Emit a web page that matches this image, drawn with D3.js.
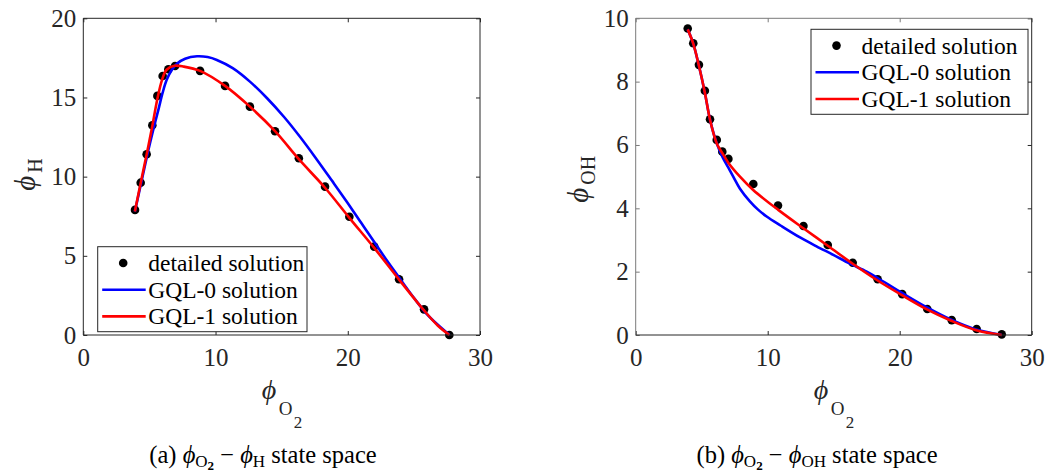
<!DOCTYPE html>
<html><head><meta charset="utf-8">
<script src="https://cdn.jsdelivr.net/npm/d3@7"></script>
<style>
body{margin:0;background:#fff;}
svg text{font-family:"Liberation Serif","Times New Roman",serif;}
</style></head>
<body><svg id="c" width="1048" height="472"></svg>
<script>
// ---------- data ----------
const xTicks = [0, 10, 20, 30];
const yTicksA = [0, 5, 10, 15, 20];
const yTicksB = [0, 2, 4, 6, 8, 10];
const legendLabels = ["detailed solution", "GQL-0 solution", "GQL-1 solution"];

// panel (a): phi_O2 vs phi_H
const detA_x = [3.91, 4.34, 4.79, 5.22, 5.6, 6.0, 6.43, 6.94, 8.83, 10.72, 12.6, 14.5, 16.3, 18.28, 20.12, 22.0, 23.88, 25.77, 27.68];
const detA_y = [7.9, 9.62, 11.41, 13.25, 15.1, 16.36, 16.78, 16.99, 16.68, 15.73, 14.42, 12.87, 11.16, 9.37, 7.47, 5.58, 3.52, 1.62, 0.0];
const gql0A_x = [3.9, 4.4, 4.9, 5.3, 5.7, 6.0, 6.3, 6.7, 7.1, 7.7, 8.6, 9.4, 10.1, 11.3, 12.6, 13.9, 15.2, 16.4, 17.6, 18.8, 19.9, 21.0, 22.07, 23.0, 23.95, 25.0, 26.0, 27.0, 27.7];
const gql0A_y = [7.8, 9.7, 11.6, 13.0, 14.3, 15.3, 16.1, 16.75, 17.15, 17.45, 17.6, 17.55, 17.37, 16.85, 16.0, 14.95, 13.75, 12.5, 11.15, 9.75, 8.45, 7.1, 5.8, 4.65, 3.55, 2.35, 1.3, 0.5, 0.0];
const gql1A_x = [3.9, 4.34, 4.79, 5.22, 5.6, 5.95, 6.3, 6.9, 7.6, 8.83, 10.72, 12.6, 14.5, 16.3, 18.28, 20.12, 22.0, 23.88, 25.77, 26.8, 27.68];
const gql1A_y = [7.8, 9.6, 11.4, 13.2, 14.9, 16.1, 16.75, 17.0, 16.95, 16.68, 15.73, 14.42, 12.87, 11.1, 9.3, 7.4, 5.5, 3.5, 1.55, 0.6, 0.0];

// panel (b): phi_O2 vs phi_OH
const detB_x = [3.94, 4.36, 4.79, 5.24, 5.63, 6.14, 6.56, 7.02, 8.91, 10.78, 12.71, 14.55, 16.44, 18.33, 20.19, 22.09, 23.94, 25.83, 27.73];
const detB_y = [9.68, 9.21, 8.53, 7.71, 6.81, 6.16, 5.79, 5.56, 4.77, 4.09, 3.44, 2.84, 2.28, 1.76, 1.29, 0.82, 0.47, 0.19, 0.02];
const gql0B_x = [3.94, 4.36, 4.79, 5.24, 5.63, 6.14, 6.6, 7.0, 7.39, 7.9, 8.65, 9.29, 9.92, 11.0, 12.45, 13.7, 14.97, 16.2, 17.5, 18.33, 20.2, 22.1, 23.9, 25.8, 27.73];
const gql0B_y = [9.65, 9.2, 8.5, 7.65, 6.8, 6.05, 5.6, 5.3, 5.0, 4.62, 4.22, 3.95, 3.74, 3.45, 3.08, 2.8, 2.53, 2.26, 2.0, 1.8, 1.32, 0.86, 0.48, 0.17, 0.0];
const gql1B_x = [3.94, 4.36, 4.79, 5.24, 5.63, 6.14, 6.6, 7.0, 7.9, 8.9, 10.8, 12.7, 14.55, 16.44, 18.33, 20.2, 22.1, 23.9, 25.8, 27.73];
const gql1B_y = [9.65, 9.2, 8.5, 7.65, 6.8, 6.05, 5.72, 5.45, 5.0, 4.58, 3.95, 3.37, 2.82, 2.25, 1.72, 1.25, 0.8, 0.45, 0.15, 0.0];

// ---------- drawing ----------
const svg = d3.select("#c");
const zip = (xs, ys) => xs.map((x, i) => [x, ys[i]]);

function panel(opt) {
  const x = d3.scaleLinear().domain([0, 30]).range(opt.xr);
  const y = d3.scaleLinear().domain(opt.yd).range([335, 18.3]);
  const g = svg.append("g");
  const axCol = "#262626";

  // data
  g.append("g").selectAll("circle").data(zip(opt.dx, opt.dy)).join("circle")
    .attr("cx", d => x(d[0])).attr("cy", d => y(d[1])).attr("r", 4.3).attr("fill", "#000");
  const line = d3.line().x(d => x(d[0])).y(d => y(d[1])).curve(d3.curveCatmullRom.alpha(0.5));
  g.append("path").datum(zip(opt.b0x, opt.b0y)).attr("d", line)
    .attr("fill", "none").attr("stroke", "#0000ff").attr("stroke-width", 2.6);
  g.append("path").datum(zip(opt.b1x, opt.b1y)).attr("d", line)
    .attr("fill", "none").attr("stroke", "#ff0000").attr("stroke-width", 2.6);

  // axes
  const [x0, x1] = x.range(), [y0, y1] = y.range();
  const styleAx = (sel, col) => {
    sel.select(".domain").remove();
    sel.selectAll("line").attr("stroke", col);
    sel.selectAll("text").attr("fill", axCol).style("font-size", "25px")
      .style("font-family", '"Liberation Serif",serif');
  };
  g.append("g").attr("transform", `translate(0,${y0})`)
    .call(d3.axisBottom(x).tickValues(xTicks).tickSizeInner(-4).tickSizeOuter(0).tickPadding(13))
    .call(s => styleAx(s, axCol));
  g.append("g").attr("transform", `translate(0,${y1})`)
    .call(d3.axisTop(x).tickValues(xTicks).tickSizeInner(-4).tickSizeOuter(0).tickFormat(""))
    .call(s => styleAx(s, opt.lightCol));
  g.append("g").attr("transform", `translate(${x0},0)`)
    .call(d3.axisLeft(y).tickValues(opt.yt).tickSizeInner(-4).tickSizeOuter(0).tickPadding(7))
    .call(s => styleAx(s, opt.lightCol));
  g.append("g").attr("transform", `translate(${x1},0)`)
    .call(d3.axisRight(y).tickValues(opt.yt).tickSizeInner(-4).tickSizeOuter(0).tickFormat(""))
    .call(s => styleAx(s, axCol));
  // box
  g.append("line").attr("x1", x0).attr("x2", x1).attr("y1", y0).attr("y2", y0).attr("stroke", axCol);
  g.append("line").attr("x1", x0).attr("x2", x1).attr("y1", y1).attr("y2", y1).attr("stroke", opt.lightCol);
  g.append("line").attr("x1", x0).attr("x2", x0).attr("y1", y0).attr("y2", y1).attr("stroke", opt.lightCol);
  g.append("line").attr("x1", x1).attr("x2", x1).attr("y1", y0).attr("y2", y1).attr("stroke", axCol);

  // x label: phi_{O_2}
  const cx = (x0 + x1) / 2;
  const xl = g.append("g").attr("fill", axCol);
  xl.append("text").attr("x", cx - 20).attr("y", 399).style("font-size", "28px").style("font-style", "italic").text("ϕ");
  xl.append("text").attr("x", cx - 3).attr("y", 415).style("font-size", "19px").text("O");
  xl.append("text").attr("x", cx + 12).attr("y", 428).style("font-size", "17px").text("2");

  // y label
  const cy = (y0 + y1) / 2;
  const yl = g.append("g").attr("fill", axCol).attr("transform", `translate(${opt.ylx},${cy}) rotate(-90)`);
  yl.append("text").attr("x", opt.yPhiOff).attr("y", 0).style("font-size", "29px").style("font-style", "italic").text("ϕ");
  yl.append("text").attr("x", opt.yPhiOff + 18).attr("y", 7).style("font-size", "20px").text(opt.ysub);

  // legend
  const lg = g.append("g").attr("transform", `translate(${opt.lg[0]},${opt.lg[1]})`);
  lg.append("rect").attr("width", opt.lg[2]).attr("height", 85).attr("fill", "#fff").attr("stroke", axCol).attr("stroke-width", 1);
  const rows = [16.3, 43, 69.7];
  lg.append("circle").attr("cx", 25.5).attr("cy", rows[0]).attr("r", 4.3).attr("fill", "#000");
  lg.append("line").attr("x1", 4.5).attr("x2", 48).attr("y1", rows[1]).attr("y2", rows[1]).attr("stroke", "#0000ff").attr("stroke-width", 2.6);
  lg.append("line").attr("x1", 4.5).attr("x2", 48).attr("y1", rows[2]).attr("y2", rows[2]).attr("stroke", "#ff0000").attr("stroke-width", 2.6);
  lg.selectAll("text.l").data(legendLabels).join("text").attr("class", "l")
    .attr("x", 50.5).attr("y", (d, i) => rows[i]).attr("dy", "0.34em")
    .style("font-size", "23.5px").attr("fill", "#000").text(d => d);

  // caption
  const cap = g.append("text").attr("x", opt.capX).attr("y", 463).attr("text-anchor", "middle")
    .style("font-size", "24.5px").attr("fill", "#000");
  cap.append("tspan").text(opt.capLetter + " ");
  cap.append("tspan").style("font-style", "italic").text("ϕ");
  cap.append("tspan").attr("dy", 4).style("font-size", "17px").text("O");
  cap.append("tspan").attr("dy", 3).style("font-size", "13px").style("font-weight", "bold").text("2");
  cap.append("tspan").attr("dy", -7).text(" − ");
  cap.append("tspan").style("font-style", "italic").text("ϕ");
  cap.append("tspan").attr("dy", 4).style("font-size", "17px").text(opt.ysub);
  cap.append("tspan").attr("dy", -4).text(" state space");
}

panel({xr: [83.3, 480], yd: [0, 20], yt: yTicksA, dx: detA_x, dy: detA_y,
  b0x: gql0A_x, b0y: gql0A_y, b1x: gql1A_x, b1y: gql1A_y, lightCol: "#262626",
  ylx: 35, yPhiOff: -14, ysub: "H", lg: [97.7, 246.7, 209.3], capX: 263, capLetter: "(a)"});
panel({xr: [635.7, 1031.7], yd: [0, 10], yt: yTicksB, dx: detB_x, dy: detB_y,
  b0x: gql0B_x, b0y: gql0B_y, b1x: gql1B_x, b1y: gql1B_y, lightCol: "#7a7a7a",
  ylx: 588, yPhiOff: -26, ysub: "OH", lg: [811, 29.3, 217], capX: 817, capLetter: "(b)"});
</script></body></html>
